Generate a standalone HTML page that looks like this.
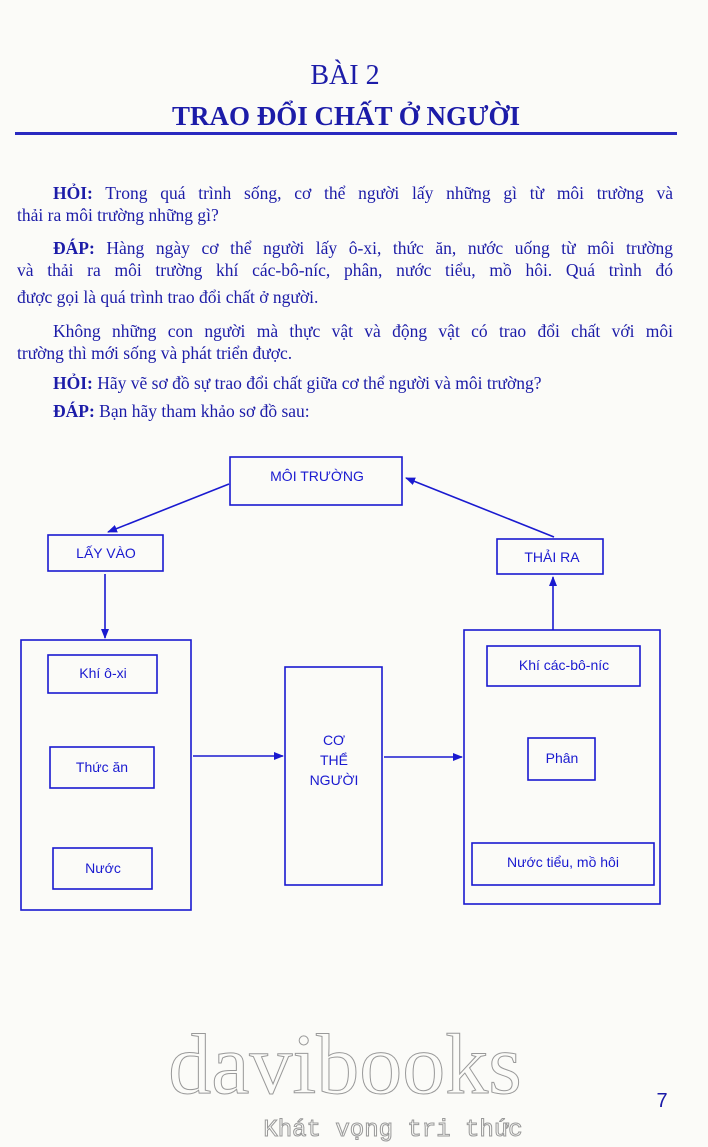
<!DOCTYPE html>
<html><head><meta charset="utf-8"><style>
html,body{margin:0;padding:0;background:#fbfbf8;}
body{width:708px;height:1147px;position:relative;overflow:hidden;font-family:"Liberation Serif",serif;color:#1c1ca8;}
.t{position:absolute;white-space:nowrap;}
.p{position:absolute;left:17px;width:656px;font-size:17.5px;line-height:22px;text-align:justify;text-align-last:justify;}
.p.l{text-align-last:left;}
b{font-weight:bold;}
</style></head><body>
<div class="t" style="left:0;width:690px;text-align:center;top:60px;font-size:28px;">BÀI 2</div>
<div class="t" style="left:0;width:692px;text-align:center;top:101px;font-size:27px;font-weight:bold;">TRAO ĐỔI CHẤT Ở NGƯỜI</div>
<div style="position:absolute;left:15px;top:132px;width:662px;height:3px;background:#2a2ac0;"></div>

<div class="p" style="top:182px;text-indent:36px;"><b>HỎI:</b> Trong quá trình sống, cơ thể người lấy những gì từ môi trường và</div>
<div class="p l" style="top:204px;">thải ra môi trường những gì?</div>
<div class="p" style="top:237px;text-indent:36px;"><b>ĐÁP:</b> Hàng ngày cơ thể người lấy ô-xi, thức ăn, nước uống từ môi trường</div>
<div class="p" style="top:259px;">và thải ra môi trường khí các-bô-níc, phân, nước tiểu, mồ hôi. Quá trình đó</div>
<div class="p l" style="top:286px;">được gọi là quá trình trao đổi chất ở người.</div>
<div class="p" style="top:320px;text-indent:36px;">Không những con người mà thực vật và động vật có trao đổi chất với môi</div>
<div class="p l" style="top:342px;">trường thì mới sống và phát triển được.</div>
<div class="p l" style="top:372px;text-indent:36px;"><b>HỎI:</b> Hãy vẽ sơ đồ sự trao đổi chất giữa cơ thể người và môi trường?</div>
<div class="p l" style="top:400px;text-indent:36px;"><b>ĐÁP:</b> Bạn hãy tham khảo sơ đồ sau:</div>

<svg width="708" height="1147" style="position:absolute;left:0;top:0" xmlns="http://www.w3.org/2000/svg">
<defs><marker id="a" markerWidth="10" markerHeight="10" refX="9" refY="5" orient="auto" markerUnits="userSpaceOnUse"><path d="M0,1 L10,5 L0,9 z" fill="#1a1ad0"/></marker></defs>
<g fill="none" stroke="#1a1ad0" stroke-width="1.6">
<rect x="230" y="457" width="172" height="48"/>
<rect x="48" y="535" width="115" height="36"/>
<rect x="497" y="539" width="106" height="35"/>
<rect x="21" y="640" width="170" height="270"/>
<rect x="48" y="655" width="109" height="38"/>
<rect x="50" y="747" width="104" height="41"/>
<rect x="53" y="848" width="99" height="41"/>
<rect x="285" y="667" width="97" height="218"/>
<rect x="464" y="630" width="196" height="274"/>
<rect x="487" y="646" width="153" height="40"/>
<rect x="528" y="738" width="67" height="42"/>
<rect x="472" y="843" width="182" height="42"/>
<line x1="229" y1="484" x2="108" y2="532" marker-end="url(#a)"/>
<line x1="554" y1="537" x2="406" y2="478" marker-end="url(#a)"/>
<line x1="105" y1="574" x2="105" y2="638" marker-end="url(#a)"/>
<line x1="553" y1="630" x2="553" y2="577" marker-end="url(#a)"/>
<line x1="193" y1="756" x2="283" y2="756" marker-end="url(#a)"/>
<line x1="384" y1="757" x2="462" y2="757" marker-end="url(#a)"/>
</g>
<g fill="#1a1ad0" font-family="Liberation Sans, sans-serif" font-size="14" text-anchor="middle">
<text x="317" y="481">MÔI TRƯỜNG</text>
<text x="106" y="558">LẤY VÀO</text>
<text x="552" y="562">THẢI RA</text>
<text x="103" y="678">Khí ô-xi</text>
<text x="102" y="772">Thức ăn</text>
<text x="103" y="873">Nước</text>
<text x="334" y="745">CƠ</text>
<text x="334" y="765">THỂ</text>
<text x="334" y="785">NGƯỜI</text>
<text x="564" y="670">Khí các-bô-níc</text>
<text x="562" y="763">Phân</text>
<text x="563" y="867">Nước tiểu, mồ hôi</text>
</g>
<g fill="none" stroke="#999" stroke-width="1">
<text x="345" y="1093" font-family="Liberation Serif, serif" font-size="86" text-anchor="middle">davibooks</text>
<text x="393" y="1136" font-family="Liberation Mono, monospace" font-size="24" text-anchor="middle">Khát vọng tri thức</text>
</g>
<text x="662" y="1107" font-family="Liberation Sans, sans-serif" font-size="20" fill="#1a1aa8" text-anchor="middle">7</text>
</svg>
</body></html>
